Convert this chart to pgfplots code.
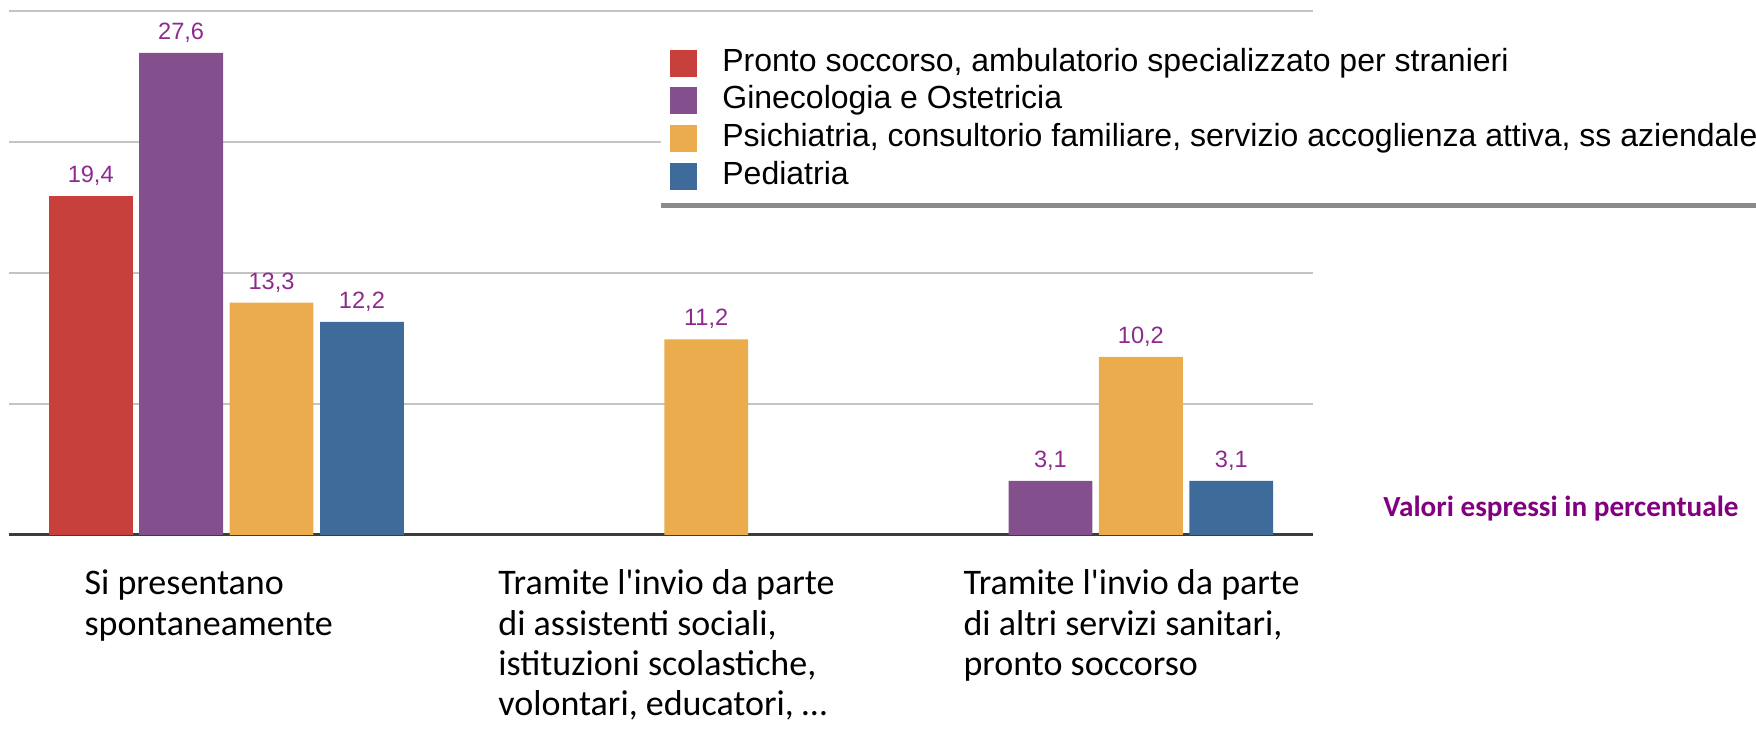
\documentclass[border=0pt]{standalone}
\usepackage{pgfplots}
\pgfplotsset{compat=1.18}
\usepackage{fontspec}
\setmainfont{Liberation Sans}
\newfontfamily\carlito{Carlito}
\definecolor{cRed}{HTML}{C8403C}
\definecolor{cPurple}{HTML}{834F8C}
\definecolor{cOrange}{HTML}{EBAC4E}
\definecolor{cBlue}{HTML}{3E6B9A}
\definecolor{lblPurple}{HTML}{8E2A8E}
\definecolor{valPurple}{HTML}{800080}
\definecolor{gridGray}{HTML}{C4C4C4}
\definecolor{baseGray}{HTML}{3C3C3C}
\definecolor{legLine}{HTML}{8A8A8A}
\pgfplotsset{mybar/.style={draw=none,
  legend image code/.code={\fill[##1] (0pt,-6.75pt) rectangle (13.5pt,6.75pt);}}}
\begin{document}
\begin{tikzpicture}
\useasboundingbox (-4.5pt,-98pt) rectangle (873.5pt,267.5pt);
\begin{axis}[
  scale only axis, width=652pt, height=262pt,
  xmin=-0.5, xmax=2.5, ymin=0, ymax=30,
  ybar=3.26pt, bar width=0.193,
  axis x line*=bottom, axis y line*=left,
  x axis line style={draw=baseGray, line width=1.5pt, -},
  y axis line style={draw=none},
  xtick=\empty, ytick={7.5,15,22.5,30}, yticklabels={},
  major tick length=0pt,
  ymajorgrids, grid style={draw=gridGray, line width=1pt},
  clip=false,
  nodes near coords,
  /pgf/number format/.cd, use comma, fixed, fixed zerofill, precision=1, assume math mode=true,
  /pgfplots/.cd,
  nodes near coords style={font=\fontsize{11.8}{13}\selectfont, text=lblPurple, inner sep=0pt, anchor=south, yshift=5pt},
  legend cell align=left,
  legend style={at={(axis cs:1.0,28.58)}, anchor=north west, draw=none, fill=white,
    inner xsep=4.5pt, inner ysep=6pt, row sep=3.85pt, column sep=12.5pt,
    nodes={inner sep=0pt, text height=11.5pt, text depth=3.5pt, font=\fontsize{16}{18}\selectfont, anchor=west}},
]
\addplot[mybar, fill=cRed] coordinates {(0,19.4)};
\addlegendentry{Pronto soccorso, ambulatorio specializzato per stranieri}
\addplot[mybar, fill=cPurple] coordinates {(0,27.6) (2,3.1)};
\addlegendentry{Ginecologia e Ostetricia}
\addplot[mybar, fill=cOrange] coordinates {(0,13.3) (1,11.2) (2,10.2)};
\addlegendentry{Psichiatria, consultorio familiare, servizio accoglienza attiva, ss aziendale}
\addplot[mybar, fill=cBlue] coordinates {(0,12.2) (2,3.1)};
\addlegendentry{Pediatria}
\draw[legLine, line width=2.5pt] (axis cs:1.0,18.89) -- (axis cs:3.6,18.89);
\begin{scope}[font=\carlito\fontsize{18}{20.2}\selectfont]
\node[anchor=north west, align=left, inner sep=0pt, yshift=-16.7pt] at (axis cs:-0.327,0) {\rule{0pt}{13pt}Si presentano\\spontaneamente};
\node[anchor=north west, align=left, inner sep=0pt, yshift=-16.7pt] at (axis cs:0.625,0) {\rule{0pt}{13pt}Tramite l'invio da parte\\di assistenti sociali,\\istituzioni scolastiche,\\volontari, educatori, …};
\node[anchor=north west, align=left, inner sep=0pt, yshift=-16.7pt] at (axis cs:1.695,0) {\rule{0pt}{13pt}Tramite l'invio da parte\\di altri servizi sanitari,\\pronto soccorso};
\end{scope}
\node[anchor=east, inner sep=0pt, text=valPurple, font=\carlito\bfseries\fontsize{14.6}{16}\selectfont] at (axis cs:3.48,1.5) {Valori espressi in percentuale};
\end{axis}
\end{tikzpicture}
\end{document}
